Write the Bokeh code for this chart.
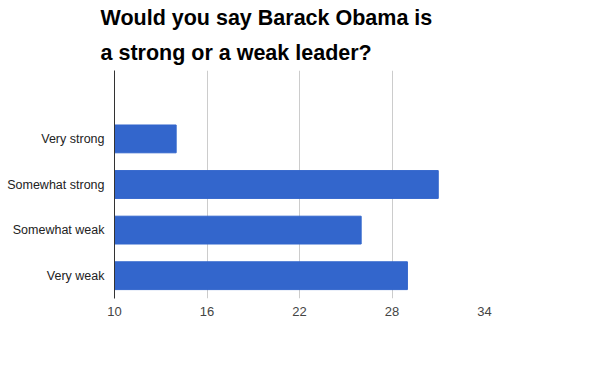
from bokeh.plotting import figure
from bokeh.models import Title, FixedTicker, Range1d
from bokeh.embed import file_html
from bokeh.resources import INLINE

categories = ["Very strong", "Somewhat strong", "Somewhat weak", "Very weak"]
values = [14, 31, 26, 29]
x_ticks = [10, 16, 22, 28, 34]
title_lines = ["Would you say Barack Obama is", "a strong or a weak leader?"]

n = len(categories)
ypos = [n - i for i in range(n)]  # top category highest

FONT = "Liberation Sans"

p = figure(width=597, height=368, output_backend="svg", toolbar_location=None,
           x_range=Range1d(10, 34), y_range=Range1d(0.5, n + 1.5),
           min_border_left=114, min_border_right=113, min_border_top=70,
           min_border_bottom=70, title=None)
p.outline_line_color = None
p.background_fill_color = "white"
p.border_fill_color = "white"

p.hbar(y=ypos, left=x_ticks[0], right=values, height=0.61, color="#3366cc")

# titles (second line added first so it sits nearest the plot)
p.add_layout(Title(text=title_lines[1], align="left", offset=-14, text_font=FONT,
                   text_font_size="21.5px", text_font_style="bold",
                   text_color="#000000", standoff=12), "above")
p.add_layout(Title(text=title_lines[0], align="left", offset=-14, text_font=FONT,
                   text_font_size="21.5px", text_font_style="bold",
                   text_color="#000000", standoff=5), "above")

p.xaxis.ticker = FixedTicker(ticks=x_ticks)
p.xaxis.axis_line_color = None
p.xaxis.major_tick_line_color = None
p.xaxis.minor_tick_line_color = None
p.xaxis.major_tick_out = 0
p.xaxis.major_label_text_font = FONT
p.xaxis.major_label_text_font_size = "13px"
p.xaxis.major_label_text_color = "#444444"
p.xaxis.major_label_standoff = 8

p.yaxis.ticker = FixedTicker(ticks=ypos)
p.yaxis.major_label_overrides = {y: c for y, c in zip(ypos, categories)}
p.yaxis.axis_line_color = "#333333"
p.yaxis.major_tick_line_color = None
p.yaxis.minor_tick_line_color = None
p.yaxis.major_tick_out = 0
p.yaxis.major_label_text_font = FONT
p.yaxis.major_label_text_font_size = "12.5px"
p.yaxis.major_label_text_color = "#222222"
p.yaxis.major_label_standoff = 10

p.xgrid.grid_line_color = "#cccccc"
p.ygrid.grid_line_color = None

open("out.html", "w").write(file_html(p, INLINE))
